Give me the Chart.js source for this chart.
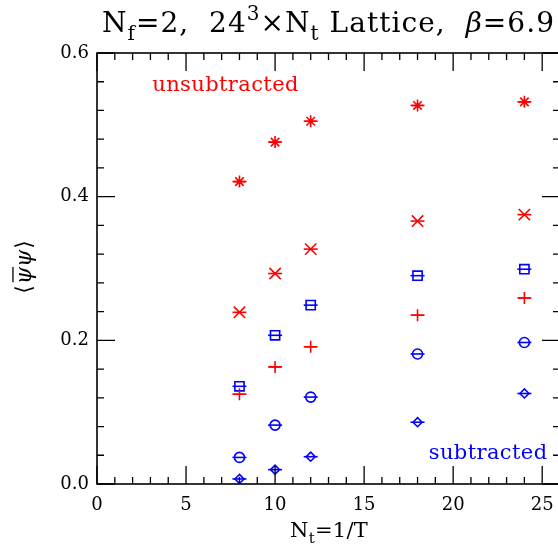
<!DOCTYPE html>
<html>
<head>
<meta charset="utf-8">
<script src="https://cdn.jsdelivr.net/npm/chart.js@4.4.0/dist/chart.umd.min.js"></script>
<style>
  html, body { margin: 0; padding: 0; overflow: hidden; background: #fff; }
  #wrap { width: 580px; height: 548px; }
</style>
</head>
<body>
<div id="wrap"><canvas id="grafico" width="580" height="548"></canvas></div>
<script>
// Dados
const nt = [8, 10, 12, 18, 24];
const unsubEstrela = [0.421, 0.476, 0.505, 0.527, 0.532];
const unsubX = [0.239, 0.293, 0.327, 0.366, 0.375];
const unsubMais = [0.125, 0.163, 0.191, 0.235, 0.259];
const subQuadrado = [0.136, 0.207, 0.249, 0.290, 0.299];
const subCirculo = [0.037, 0.082, 0.121, 0.181, 0.197];
const subLosango = [0.007, 0.020, 0.038, 0.086, 0.126];
const xTicks = [0, 5, 10, 15, 20, 25];
const yTicks = [0.0, 0.2, 0.4, 0.6];

const fonte = '"DejaVu Serif", serif';
const VERMELHO = '#ff0000';
const AZUL = '#0000ff';
const DIREITA = 560; // borda direita da área do gráfico (fica fora da janela)

function pontos(ys) {
  return nt.map((x, i) => ({ x: x, y: ys[i] }));
}

function serie(ys, cor, estilo, raio) {
  return {
    data: pontos(ys),
    showLine: false,
    pointStyle: estilo,
    pointRadius: raio,
    pointHoverRadius: raio,
    borderColor: cor,
    backgroundColor: 'rgba(0,0,0,0)',
    pointBorderWidth: 1.6
  };
}

// texto com subscrito / sobrescrito / itálico
function fontePara(m, tam) {
  if (m === 'i') return 'italic ' + tam + 'px ' + fonte;
  if (m === 'n') return tam + 'px ' + fonte;
  return Math.round(tam * 0.7) + 'px ' + fonte;
}
function medirRico(ctx, partes, tam) {
  let w = 0;
  partes.forEach(([t, m]) => {
    ctx.font = fontePara(m, tam);
    w += ctx.measureText(t).width;
  });
  return w;
}
function textoRico(ctx, partes, x, y, tam, align, largura) {
  ctx.letterSpacing = '0px';
  let n = 0;
  partes.forEach(([t]) => { n += t.length; });
  let esp = 0;
  if (largura) esp = (largura - medirRico(ctx, partes, tam)) / n;
  ctx.letterSpacing = esp + 'px';
  const w = medirRico(ctx, partes, tam);
  let cx = align === 'center' ? x - w / 2 : (align === 'right' ? x - w : x);
  ctx.textBaseline = 'alphabetic';
  ctx.textAlign = 'left';
  partes.forEach(([t, m]) => {
    let dy = 0;
    if (m === 'sub') dy = tam * 0.28;
    if (m === 'sup') dy = -tam * 0.42;
    ctx.font = fontePara(m, tam);
    ctx.fillText(t, cx, y + dy);
    cx += ctx.measureText(t).width;
  });
  ctx.letterSpacing = '0px';
}

const moldura = {
  id: 'moldura',
  afterDatasetsDraw(chart) {
    const ctx = chart.ctx;
    const a = chart.chartArea;
    const sx = chart.scales.x, sy = chart.scales.y;

    // barras horizontais nos marcadores
    chart.data.datasets.forEach((ds, i) => {
      const meta = chart.getDatasetMeta(i);
      ctx.save();
      ctx.strokeStyle = ds.borderColor;
      ctx.lineWidth = 1.6;
      meta.data.forEach(p => {
        ctx.beginPath();
        ctx.moveTo(p.x - 7, p.y);
        ctx.lineTo(p.x + 7, p.y);
        ctx.stroke();
      });
      ctx.restore();
    });

    ctx.save();
    ctx.strokeStyle = '#000';
    ctx.lineWidth = 1.6;
    ctx.strokeRect(a.left, a.top, a.right - a.left, a.bottom - a.top);

    ctx.lineWidth = 1.3;
    ctx.beginPath();
    for (let i = 0; i <= 26; i++) {
      const px = sx.getPixelForValue(i);
      const len = i % 5 === 0 ? 18 : 7;
      ctx.moveTo(px, a.bottom); ctx.lineTo(px, a.bottom - len);
      ctx.moveTo(px, a.top); ctx.lineTo(px, a.top + len);
    }
    for (let i = 0; i <= 15; i++) {
      const py = sy.getPixelForValue(i * 0.04);
      const len = i % 5 === 0 ? 18 : 7;
      ctx.moveTo(a.left, py); ctx.lineTo(a.left + len, py);
      ctx.moveTo(a.right, py); ctx.lineTo(a.right - len, py);
    }
    ctx.stroke();

    // rótulos do eixo x
    ctx.fillStyle = '#000';
    ctx.font = '18px ' + fonte;
    ctx.textAlign = 'center';
    ctx.textBaseline = 'alphabetic';
    xTicks.forEach(v => ctx.fillText(String(v), sx.getPixelForValue(v), a.bottom + 26));

    // titulo
    textoRico(ctx, [['N', 'n'], ['f', 'sub'], ['=2,  24', 'n'], ['3', 'sup'], ['\u00d7N', 'n'], ['t', 'sub'], [' Lattice,  ', 'n'], ['\u03b2', 'i'], ['=6.9', 'n']], 102, 32, 28, 'left', 453);

    // titulo eixo x
    textoRico(ctx, [['N', 'n'], ['t', 'sub'], ['=1/T', 'n']], 290, 537, 21, 'left', 78);

    // titulo eixo y
    ctx.save();
    ctx.translate(31, 267);
    ctx.rotate(-Math.PI / 2);
    const tam = 22;
    ctx.font = tam + 'px ' + fonte;
    const w1 = ctx.measureText('\u27e8').width;
    ctx.font = 'italic ' + tam + 'px ' + fonte;
    const wp = ctx.measureText('\u03c8').width;
    const total = w1 * 2 + wp * 2 + 2;
    let cx = -total / 2;
    ctx.textAlign = 'left';
    ctx.textBaseline = 'alphabetic';
    ctx.font = tam + 'px ' + fonte;
    ctx.fillText('\u27e8', cx, 0); cx += w1 + 1;
    ctx.font = 'italic ' + tam + 'px ' + fonte;
    ctx.fillText('\u03c8', cx, 0);
    ctx.lineWidth = 1.3;
    ctx.beginPath();
    ctx.moveTo(cx + 2, -tam * 0.82); ctx.lineTo(cx + wp, -tam * 0.82);
    ctx.stroke();
    cx += wp;
    ctx.fillText('\u03c8', cx, 0); cx += wp + 1;
    ctx.font = tam + 'px ' + fonte;
    ctx.fillText('\u27e9', cx, 0);
    ctx.restore();

    // rótulos
    ctx.font = '21px ' + fonte;
    ctx.letterSpacing = '0.4px';
    ctx.textBaseline = 'middle';
    ctx.fillStyle = VERMELHO;
    ctx.textAlign = 'left';
    ctx.fillText('unsubtracted', sx.getPixelForValue(3.1), sy.getPixelForValue(0.555));
    ctx.fillStyle = AZUL;
    ctx.textAlign = 'right';
    ctx.fillText('subtracted', sx.getPixelForValue(25.3), sy.getPixelForValue(0.042));
    ctx.letterSpacing = '0px';
    ctx.restore();
  }
};

const chart = new Chart(document.getElementById('grafico').getContext('2d'), {
  type: 'scatter',
  data: {
    datasets: [
      serie(unsubEstrela, VERMELHO, 'star', 6),
      serie(unsubX, VERMELHO, 'crossRot', 8),
      serie(unsubMais, VERMELHO, 'cross', 6),
      serie(subQuadrado, AZUL, 'rect', 6.5),
      serie(subCirculo, AZUL, 'circle', 5),
      serie(subLosango, AZUL, 'rectRot', 4.5)
    ]
  },
  options: {
    responsive: false,
    animation: false,
    layout: { padding: { left: 0, right: 20, top: 53, bottom: 0 } },
    plugins: { legend: { display: false }, tooltip: { enabled: false }, title: { display: false } },
    scales: {
      x: {
        type: 'linear', min: 0, max: 26,
        grid: { display: false },
        border: { display: false },
        afterBuildTicks: s => { s.ticks = xTicks.map(v => ({ value: v })); },
        afterFit: s => { s.height = 64; s.paddingLeft = 0; s.paddingRight = 0; },
        ticks: { display: false }
      },
      y: {
        type: 'linear', min: 0, max: 0.6,
        grid: { display: false },
        border: { display: false },
        afterBuildTicks: s => { s.ticks = yTicks.map(v => ({ value: v })); },
        afterFit: s => { s.width = 97; },
        ticks: { font: { family: fonte, size: 18 }, color: '#000', padding: 0, callback: v => v.toFixed(1) }
      }
    }
  },
  plugins: [moldura]
});

// ajusta a margem direita até a borda ficar em DIREITA
for (let k = 0; k < 3; k++) {
  const dif = chart.chartArea.right - DIREITA;
  if (Math.abs(dif) < 0.5) break;
  chart.options.layout.padding.right = Math.max(0, chart.options.layout.padding.right + dif);
  chart.update();
}
</script>
</body>
</html>
